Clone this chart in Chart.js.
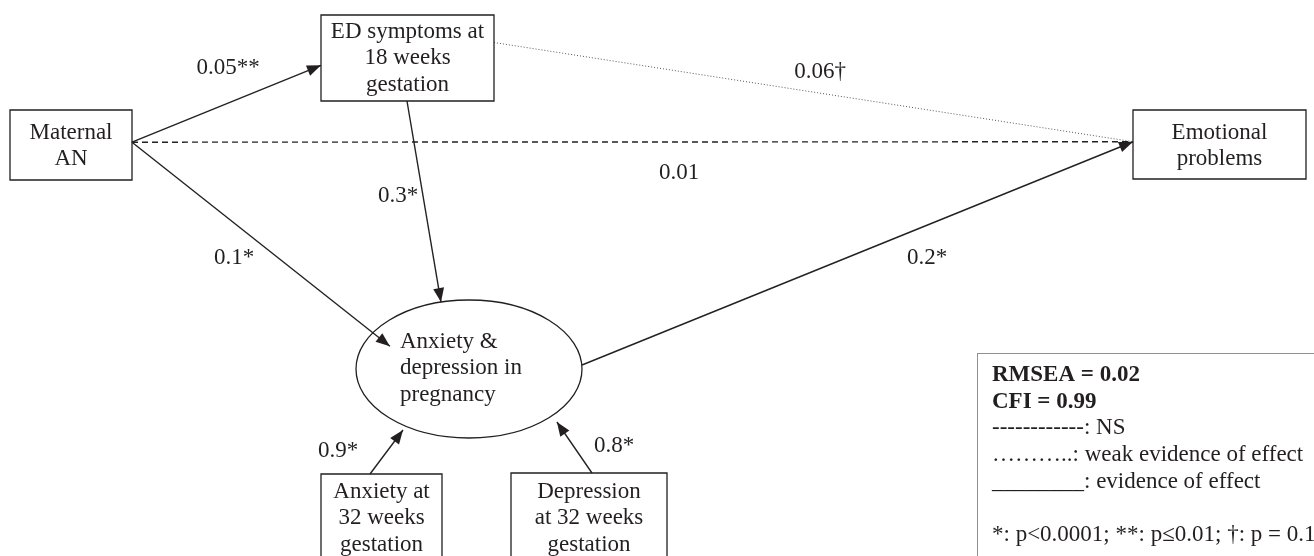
<!DOCTYPE html>
<html>
<head>
<meta charset="utf-8">
<script src="https://cdn.jsdelivr.net/npm/chart.js@4"></script>
<style>
html, body { margin: 0; padding: 0; background: #fff; }
#wrap { width: 1314px; height: 556px; position: relative; }
</style>
</head>
<body>
<div id="wrap"><canvas id="path-model"></canvas></div>
<script>
// variables in the model
const node_ids = ["AN", "ED", "LAT", "ANX", "DEP", "EMO"];
const node_names = [
  ["Maternal", "AN"],
  ["ED symptoms at", "18 weeks", "gestation"],
  ["Anxiety &", "depression in", "pregnancy"],
  ["Anxiety at", "32 weeks", "gestation"],
  ["Depression", "at 32 weeks", "gestation"],
  ["Emotional", "problems"]
];

// paths and their standardised coefficients
const path_from = ["AN", "AN", "ED", "AN", "ED", "LAT", "ANX", "DEP"];
const path_to = ["ED", "EMO", "EMO", "LAT", "LAT", "EMO", "LAT", "LAT"];
const path_coef = [0.05, 0.01, 0.06, 0.1, 0.3, 0.2, 0.9, 0.8];
const path_sig = ["**", "", "†", "*", "*", "*", "*", "*"];
const path_evidence = ["evidence", "NS", "weak", "evidence", "evidence", "evidence", "evidence", "evidence"];

// model fit + key
const fit_names = ["RMSEA", "CFI"];
const fit_values = [0.02, 0.99];
const key_lines = [
  "------------: NS",
  "………..: weak evidence of effect",
  "________: evidence of effect",
  "",
  "*: p<0.0001; **: p≤0.01; †: p = 0.1"
];

// ---- layout (drawing positions, in axis units = page pixels) ----
const layout = {
  AN:  { shape: "box",     x0: 10,   y0: 110, x1: 132,  y1: 180, text_y: 133 },
  ED:  { shape: "box",     x0: 321,  y0: 15,  x1: 494,  y1: 101, text_y: 32 },
  LAT: { shape: "ellipse", x0: 356,  y0: 300, x1: 582,  y1: 438, text_y: 342, text_x: 400 },
  ANX: { shape: "box",     x0: 321,  y0: 474, x1: 442,  y1: 600, text_y: 492 },
  DEP: { shape: "box",     x0: 511,  y0: 473, x1: 667,  y1: 600, text_y: 492 },
  EMO: { shape: "box",     x0: 1133, y0: 110, x1: 1306, y1: 179, text_y: 133 }
};
const line_gap = 26.3;
// where each path leaves / enters its node, as fractions of the node's box
const path_ports = [
  [[1, 0.46], [0, 0.585]],
  [[1, 0.46], [0, 0.46]],
  [[1, 0.32], [0, 0.46]],
  [[1, 0.46], [0.15, 0.335]],
  [[0.497, 1], [0.376, 0.015]],
  [[1, 0.471], [0, 0.46]],
  [[0.405, 0], [0.208, 0.942]],
  [[0.519, 0], [0.889, 0.884]]
];
const path_head = [true, false, false, true, true, true, true, true];
const path_label_at = [[228, 68], [679, 173], [820, 72], [234, 258], [398, 196], [927, 258], [338, 451], [614, 446]];
const key_box = { x0: 977, y0: 353, text_x: 992, text_y: 375, gap: 26.7 };

const evidence_style = {
  evidence: { dash: [], width: 1.4, color: "#222" },
  NS:       { dash: [6, 4], width: 1.4, color: "#222" },
  weak:     { dash: [1, 2], width: 1, color: "#555" }
};

const FONT = "'Liberation Serif', 'Times New Roman', serif";
const FONT_SIZE = 23;
const INK = "#231f20";

function port(id, f) {
  const n = layout[id];
  return { x: n.x0 + f[0] * (n.x1 - n.x0), y: n.y0 + f[1] * (n.y1 - n.y0) };
}

const datasets = path_from.map((from, i) => {
  const st = evidence_style[path_evidence[i]];
  return {
    label: from + " -> " + path_to[i],
    data: [port(from, path_ports[i][0]), port(path_to[i], path_ports[i][1])],
    showLine: true,
    borderColor: st.color,
    borderWidth: st.width,
    borderDash: st.dash,
    pointRadius: 0,
    pointHoverRadius: 0
  };
});

const diagram_plugin = {
  id: "pathDiagram",
  afterDatasetsDraw(chart) {
    const ctx = chart.ctx;
    const sx = chart.scales.x, sy = chart.scales.y;
    const px = v => sx.getPixelForValue(v);
    const py = v => sy.getPixelForValue(v);
    ctx.save();

    // arrow heads
    ctx.fillStyle = INK;
    datasets.forEach((ds, i) => {
      if (!path_head[i]) return;
      const a = ds.data[0], b = ds.data[1];
      const ax = px(a.x), ay = py(a.y), bx = px(b.x), by = py(b.y);
      const ang = Math.atan2(by - ay, bx - ax);
      const len = 14, half = 5.5;
      ctx.beginPath();
      ctx.moveTo(bx, by);
      ctx.lineTo(bx - len * Math.cos(ang) + half * Math.sin(ang), by - len * Math.sin(ang) - half * Math.cos(ang));
      ctx.lineTo(bx - len * Math.cos(ang) - half * Math.sin(ang), by - len * Math.sin(ang) + half * Math.cos(ang));
      ctx.closePath();
      ctx.fill();
    });

    // nodes
    ctx.strokeStyle = INK;
    ctx.lineWidth = 1.3;
    ctx.setLineDash([]);
    ctx.font = FONT_SIZE + "px " + FONT;
    ctx.textBaseline = "middle";
    node_ids.forEach((id, k) => {
      const n = layout[id];
      const x0 = px(n.x0), x1 = px(n.x1), y0 = py(n.y0), y1 = py(n.y1);
      ctx.beginPath();
      if (n.shape === "ellipse") {
        ctx.ellipse((x0 + x1) / 2, (y0 + y1) / 2, (x1 - x0) / 2, (y1 - y0) / 2, 0, 0, Math.PI * 2);
      } else {
        ctx.rect(x0, y0, x1 - x0, y1 - y0);
      }
      ctx.stroke();
      node_names[k].forEach((t, j) => {
        const ty = py(n.text_y + j * line_gap);
        if (n.text_x !== undefined) {
          ctx.textAlign = "left";
          ctx.fillText(t, px(n.text_x), ty);
        } else {
          ctx.textAlign = "center";
          ctx.fillText(t, (x0 + x1) / 2, ty);
        }
      });
    });

    // coefficients
    ctx.textAlign = "center";
    path_coef.forEach((c, i) => {
      ctx.fillText(String(c) + path_sig[i], px(path_label_at[i][0]), py(path_label_at[i][1]));
    });

    // key box
    ctx.strokeStyle = "#222";
    ctx.lineWidth = 1;
    ctx.setLineDash([1, 1]);
    ctx.strokeRect(px(key_box.x0) + 0.5, py(key_box.y0) + 0.5, 400, 300);
    ctx.setLineDash([]);
    ctx.textAlign = "left";
    const lines = fit_names.map((f, i) => ({ t: f + " = " + fit_values[i].toFixed(2), bold: true }))
      .concat(key_lines.map(t => ({ t: t, bold: false })));
    lines.forEach((l, i) => {
      ctx.font = (l.bold ? "bold " : "") + FONT_SIZE + "px " + FONT;
      ctx.fillText(l.t, px(key_box.text_x), py(key_box.text_y + i * key_box.gap));
    });
    ctx.restore();
  }
};

Chart.defaults.font.family = FONT;

new Chart(document.getElementById("path-model"), {
  type: "scatter",
  data: { datasets: datasets },
  options: {
    responsive: true,
    maintainAspectRatio: false,
    animation: false,
    layout: { padding: 0 },
    plugins: { legend: { display: false }, tooltip: { enabled: false } },
    scales: {
      x: { type: "linear", min: 0, max: 1314, display: false },
      y: { type: "linear", min: 0, max: 556, reverse: true, display: false }
    }
  },
  plugins: [diagram_plugin]
});
</script>
</body>
</html>
